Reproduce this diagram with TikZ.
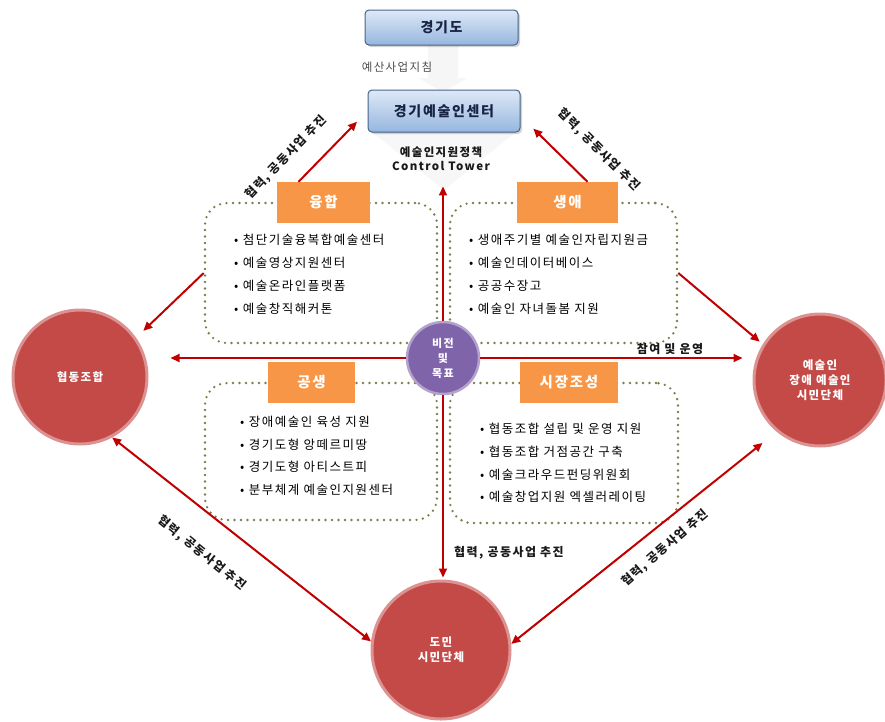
\documentclass[tikz,border=0pt]{standalone}
\usepackage{fontspec}
\setmainfont{Noto Sans CJK KR}[LetterSpace=12]
\usetikzlibrary{arrows.meta,shadows}
\definecolor{arrred}{RGB}{192,0,0}
\definecolor{circred}{RGB}{196,74,72}
\definecolor{visp}{RGB}{128,100,170}
\definecolor{hdrc}{RGB}{247,150,70}
\definecolor{dotc}{RGB}{125,125,75}
\definecolor{boxtop}{RGB}{222,233,247}
\definecolor{boxbot}{RGB}{150,182,222}
\definecolor{boxline}{RGB}{70,100,140}
\definecolor{navy}{RGB}{25,35,70}
\begin{document}
\begin{tikzpicture}[x=1pt,y=-1pt,
  bluebox/.style={draw=boxline, line width=1pt, rounded corners=4pt, top color=boxtop, bottom color=boxbot, text=navy, font=\fontsize{14}{16}\selectfont\bfseries, drop shadow={shadow xshift=2pt, shadow yshift=-2pt, opacity=0.35}},
  hdrbox/.style={fill=hdrc, text=white, font=\fontsize{14.5}{16}\selectfont\bfseries, minimum height=41pt, inner sep=0pt},
  dotbox/.style={draw=dotc, line width=2.6pt, dash pattern=on 0pt off 6.5pt, line cap=round, rounded corners=22pt, inner sep=0pt},
  circ/.style={circle, fill=circred, draw=circred!60, line width=3pt, text=white, font=\fontsize{11.5}{15}\selectfont\bfseries, align=center, inner sep=0pt},
  visc/.style={circle, fill=visp, draw=visp!60, line width=2.5pt, text=white, font=\fontsize{11}{15}\selectfont\bfseries, align=center, inner sep=0pt},
  lbl/.style={font=\fontsize{12}{13}\selectfont\bfseries, text=black!90, inner sep=1pt},
  blist/.style={anchor=north west, align=left, inner sep=0pt, text=black, font=\fontsize{12.5}{23}\selectfont},
  arr/.style={draw=arrred, line width=2pt, -{Triangle[length=9pt,width=8pt]}},
  arrtwo/.style={draw=arrred, line width=2pt, {Triangle[length=9pt,width=8pt]}-{Triangle[length=9pt,width=8pt]}}
]
\useasboundingbox (0,0) rectangle (885,721);
% faint background arrows
\fill[gray!7] (428,45) -- (458,45) -- (458,78) -- (468,78) -- (443,92) -- (418,78) -- (428,78) -- cycle;
\fill[gray!6] (372,132) -- (516,132) -- (444,190) -- cycle;
% top boxes
\node[bluebox, minimum width=153pt, minimum height=35pt] (gg) at (441.5,27.5) {경기도};
\node[font=\fontsize{11.5}{12}\selectfont, text=black!70] (budget) at (397,67) {예산사업지침};
\node[bluebox, minimum width=152pt, minimum height=42pt] (ctr) at (444,111) {경기예술인센터};
\node[font=\fontsize{11.5}{14}\selectfont\bfseries, align=center, text=black!90] (ct) at (441,159) {예술인지원정책\\Control Tower};
% dotted quadrants
\node[dotbox, minimum width=232pt, minimum height=140pt] (qtl) at (321,273) {};
\node[dotbox, minimum width=227pt, minimum height=140pt] (qtr) at (563.5,273) {};
\node[dotbox, minimum width=232pt, minimum height=137pt] (qbl) at (321,451.5) {};
\node[dotbox, minimum width=228pt, minimum height=140pt] (qbr) at (564,453) {};
% headers
\node[hdrbox, minimum width=93pt] (h1) at (323.5,202.5) {융합};
\node[hdrbox, minimum width=101pt] (h2) at (567.5,202.5) {생애};
\node[hdrbox, minimum width=87pt] (h3) at (311.5,382) {공생};
\node[hdrbox, minimum width=98pt] (h4) at (569,382) {시장조성};
% lists
\node[blist] (l1) at (234,234) {• 첨단기술융복합예술센터\\• 예술영상지원센터\\• 예술온라인플랫폼\\• 예술창직해커톤};
\node[blist] (l2) at (469,234) {• 생애주기별 예술인자립지원금\\• 예술인데이터베이스\\• 공공수장고\\• 예술인 자녀돌봄 지원};
\node[blist, font=\fontsize{12.5}{22.5}\selectfont] (l3) at (240,416) {• 장애예술인 육성 지원\\• 경기도형 앙떼르미땅\\• 경기도형 아티스트피\\• 분부체계 예술인지원센터};
\node[blist, font=\fontsize{12.5}{22.7}\selectfont] (l4) at (480,423) {• 협동조합 설립 및 운영 지원\\• 협동조합 거점공간 구축\\• 예술크라우드펀딩위원회\\• 예술창업지원 엑셀러레이팅};
% circles
\node[circ, minimum size=134pt] (hy) at (80,377) {협동조합};
\node[circ, minimum size=132pt] (rc) at (820,380) {예술인\\장애 예술인\\시민단체};
\node[circ, minimum size=138pt] (dm) at (441,650) {도민\\시민단체};
\node[visc, minimum size=72pt] (vis) at (443,358) {비전\\및\\목표};
% arrows
\draw[arr, shorten >=15pt] ([xshift=-25pt]h1.north) -- (ctr.west);
\draw[arr, shorten >=18pt] ([xshift=20pt]h2.north) -- ([yshift=-5pt]ctr.east);
\draw[arr, shorten >=12pt] (vis.north) -- (vis.north |- ct.south);
\draw[arr, shorten >=2pt] (vis.south) -- (vis.south |- dm.north);
\draw[arr, shorten >=22pt] (vis.west) -- (vis.west -| hy.east);
\draw[arr, shorten >=10pt] (vis.east) -- (vis.east -| rc.west);
\draw[arr, shorten >=10pt] (qtl.west) -- (hy.35);
\draw[arr, shorten >=4pt] (qtr.east) -- (rc.148);
\draw[arrtwo] (hy.-62) -- (dm.173);
\draw[arrtwo, shorten <=18pt] (rc.230) -- (dm.5);
% labels
\node[lbl, rotate=46] (t1) at (286,157) {협력, 공동사업 추진};
\node[lbl, rotate=-45] (t2) at (599,150) {협력, 공동사업 추진};
\node[lbl, rotate=-39] (t3) at (202,553) {협력, 공동사업 추진};
\node[lbl, anchor=west] (t4) at (453,553) {협력, 공동사업 추진};
\node[lbl, rotate=41] (t5) at (665,548) {협력, 공동사업 추진};
\node[lbl] (t6) at (670,349) {참여 및 운영};
\end{tikzpicture}
\end{document}
